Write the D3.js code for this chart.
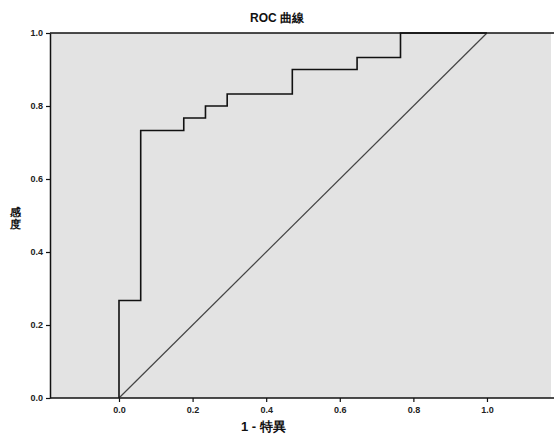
<!DOCTYPE html>
<html>
<head>
<meta charset="utf-8">
<script src="https://cdn.jsdelivr.net/npm/d3@7"></script>
<style>
  body { margin: 0; background: #fff; }
  text { font-family: "Liberation Sans", Arial, sans-serif; }
</style>
</head>
<body>
<script>
// ROC curve points (1 - specificity, sensitivity)
var fpr = [0, 0, 0.059, 0.059, 0.176, 0.176, 0.235, 0.235, 0.294, 0.294, 0.471, 0.471, 0.647, 0.647, 0.765, 0.765, 1.0];
var tpr = [0, 0.267, 0.267, 0.733, 0.733, 0.767, 0.767, 0.8, 0.8, 0.833, 0.833, 0.9, 0.9, 0.933, 0.933, 1.0, 1.0];
var refLine = [0, 1];
var xTicks = [0, 0.2, 0.4, 0.6, 0.8, 1.0];
var yTicks = [0, 0.2, 0.4, 0.6, 0.8, 1.0];

var svgWidth = 554, svgHeight = 438;
var margin = { top: 33, right: 3, bottom: 40, left: 50 };
var width = svgWidth - margin.left - margin.right;
var height = svgHeight - margin.top - margin.bottom;

var svg = d3.select("body").append("svg")
    .attr("width", svgWidth)
    .attr("height", svgHeight);

var chartGroup = svg.append("g")
    .attr("transform", `translate(${margin.left}, ${margin.top})`);

var xScale = d3.scaleLinear().domain([-0.1875, 1.174]).range([0, width]);
var yScale = d3.scaleLinear().domain([0, 1]).range([height, 0]);

// plot background
chartGroup.append("rect")
    .attr("width", width)
    .attr("height", height)
    .attr("fill", "#e3e3e3");

// top border
chartGroup.append("line")
    .attr("x1", 0).attr("x2", width + margin.right)
    .attr("y1", 0).attr("y2", 0)
    .attr("stroke", "#111").attr("stroke-width", 1.5);

// axes
var xAxis = d3.axisBottom(xScale).tickValues(xTicks).tickFormat(d3.format(".1f")).tickSize(4).tickSizeOuter(0);
var yAxis = d3.axisLeft(yScale).tickValues(yTicks).tickFormat(d3.format(".1f")).tickSize(4).tickSizeOuter(0);

var gx = chartGroup.append("g")
    .attr("transform", `translate(0, ${height})`)
    .call(xAxis);
gx.select(".domain").attr("d", `M0,0H${width + margin.right}`);

var gy = chartGroup.append("g").call(yAxis);

[gx, gy].forEach(function (g) {
    g.select(".domain").attr("stroke", "#111").attr("stroke-width", 1.5);
    g.selectAll(".tick line").attr("stroke", "#111").attr("stroke-width", 1.2);
    g.selectAll(".tick text")
        .attr("font-size", "9px")
        .attr("font-weight", "bold")
        .attr("fill", "#222");
});
gx.selectAll(".tick text").attr("dy", "0.9em");

// reference diagonal
chartGroup.append("line")
    .attr("x1", xScale(refLine[0])).attr("y1", yScale(refLine[0]))
    .attr("x2", xScale(refLine[1])).attr("y2", yScale(refLine[1]))
    .attr("stroke", "#444")
    .attr("stroke-width", 1.2);

// ROC step curve
var rocData = fpr.map(function (d, i) { return { x: d, y: tpr[i] }; });
var line = d3.line().x(d => xScale(d.x)).y(d => yScale(d.y));
chartGroup.append("path")
    .datum(rocData)
    .attr("d", line)
    .attr("fill", "none")
    .attr("stroke", "#111")
    .attr("stroke-width", 1.6);

// title
svg.append("text")
    .attr("x", 277)
    .attr("y", 22)
    .attr("text-anchor", "middle")
    .attr("font-size", "12px")
    .attr("font-weight", "bold")
    .attr("fill", "#111")
    .text("ROC 曲線");

// x axis label
svg.append("text")
    .attr("x", 241)
    .attr("y", 431)
    .attr("font-size", "13px")
    .attr("font-weight", "bold")
    .attr("fill", "#111")
    .text("1 - 特異");

// y axis label (vertical, stacked)
var yLab = svg.append("text")
    .attr("text-anchor", "middle")
    .attr("font-size", "11px")
    .attr("font-weight", "bold")
    .attr("fill", "#111");
["感", "度"].forEach(function (c, i) {
    yLab.append("tspan")
        .attr("x", 15)
        .attr("y", 216 + i * 12)
        .text(c);
});
</script>
</body>
</html>
